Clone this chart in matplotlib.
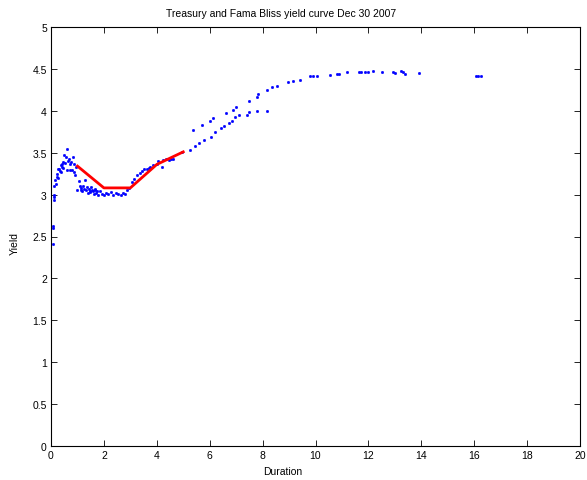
import matplotlib
matplotlib.use("Agg")
import matplotlib.pyplot as plt

plt.rcParams['font.family'] = ['Liberation Sans', 'DejaVu Sans']

# Treasury yields vs duration (blue dots)
dur = [0.06, 0.07, 0.07, 0.10, 0.10, 0.11, 0.13, 0.15, 0.18, 0.21, 0.23,
       0.25, 0.27, 0.30, 0.33, 0.36, 0.38, 0.40, 0.42, 0.44, 0.47, 0.50,
       0.53, 0.56, 0.59, 0.62, 0.66, 0.69, 0.71, 0.73, 0.75, 0.80, 0.84,
       0.87, 0.88, 0.91, 0.95,
       1.00, 1.07, 1.10, 1.12, 1.15, 1.18, 1.22, 1.25, 1.29, 1.33, 1.36,
       1.38, 1.43, 1.46, 1.48, 1.52, 1.55, 1.57, 1.62, 1.65, 1.67, 1.72,
       1.75, 1.79, 1.85, 1.92, 2.00, 2.08, 2.17, 2.27, 2.36, 2.45, 2.55,
       2.63, 2.72, 2.80, 2.86,
       2.95, 3.05, 3.15, 3.26, 3.36, 3.45, 3.50, 3.62, 3.70, 3.75, 3.87,
       4.00, 4.05, 4.18, 4.25, 4.35, 4.45, 4.55, 4.60, 4.94, 5.26, 5.36,
       5.44, 5.60, 5.70, 5.80,
       6.01, 6.05, 6.11, 6.21, 6.43, 6.53, 6.62, 6.73, 6.84, 6.89, 6.97,
       6.99, 7.11, 7.41, 7.50, 7.50, 7.78, 7.80, 7.81, 8.18, 8.18, 8.36,
       8.56, 8.95, 9.14, 9.41, 9.79, 9.92, 10.05, 10.55, 10.80, 10.88,
       11.19, 11.63, 11.71, 11.87, 11.97, 12.16, 12.51, 12.92, 13.00,
       13.23, 13.30, 13.38, 13.90, 16.05, 16.15, 16.25]
yld = [2.41, 2.60, 2.63, 2.94, 3.00, 2.97, 3.10, 3.18, 3.13, 3.21, 3.25,
       3.20, 3.31, 3.30, 3.28, 3.35, 3.27, 3.33, 3.36, 3.39, 3.32, 3.47,
       3.38, 3.45, 3.55, 3.29, 3.40, 3.42, 3.29, 3.36, 3.39, 3.29, 3.45,
       3.37, 3.27, 3.23, 3.33,
       3.05, 3.16, 3.10, 3.08, 3.06, 3.04, 3.10, 3.07, 3.17, 3.06, 3.09,
       3.02, 3.07, 3.04, 3.03, 3.09, 3.05, 3.04, 3.01, 3.07, 3.06, 3.02,
       3.04, 2.99, 3.04, 3.01, 3.00, 3.02, 3.01, 3.03, 3.00, 3.02, 3.01,
       3.00, 3.02, 3.01, 3.05,
       3.08, 3.15, 3.19, 3.23, 3.26, 3.28, 3.30, 3.31, 3.32, 3.33, 3.35,
       3.37, 3.40, 3.33, 3.41, 3.42, 3.41, 3.43, 3.42, 3.51, 3.53, 3.77,
       3.58, 3.61, 3.83, 3.65,
       3.88, 3.69, 3.91, 3.75, 3.79, 3.82, 3.97, 3.85, 3.88, 4.01, 3.93,
       4.05, 3.95, 3.95, 4.12, 3.99, 4.17, 4.00, 4.20, 4.25, 4.00, 4.28,
       4.30, 4.34, 4.36, 4.37, 4.41, 4.41, 4.42, 4.43, 4.44, 4.44,
       4.46, 4.46, 4.46, 4.46, 4.46, 4.47, 4.46, 4.46, 4.45,
       4.47, 4.46, 4.44, 4.45, 4.42, 4.42, 4.42]

# Fama Bliss yields (red line)
fb_dur = [1, 2, 3, 4, 5]
fb_yld = [3.34, 3.08, 3.08, 3.36, 3.51]

xticks = [0, 2, 4, 6, 8, 10, 12, 14, 16, 18, 20]
yticks = [0, 0.5, 1, 1.5, 2, 2.5, 3, 3.5, 4, 4.5, 5]
ytick_labels = ['0', '0.5', '1', '1.5', '2', '2.5', '3', '3.5', '4', '4.5', '5']

fig = plt.figure(figsize=(5.87, 4.81), dpi=100)
ax = fig.add_axes([51 / 587, 34 / 481, 529 / 587, 419 / 481])

ax.plot(dur, yld, linestyle='none', marker='.', color='blue',
        markersize=3.2, markeredgewidth=0.5)
ax.plot(fb_dur, fb_yld, color='red', linewidth=2)

ax.set_xlim(0, 20)
ax.set_ylim(0, 5)
ax.set_xticks(xticks)
ax.set_xticklabels([str(t) for t in xticks])
ax.set_yticks(yticks)
ax.set_yticklabels(ytick_labels)
ax.tick_params(direction='in', top=True, right=True, length=4, width=0.6,
               labelsize=7.5, pad=3)
for s in ax.spines.values():
    s.set_linewidth(0.8)

ax.set_title('Treasury and Fama Bliss yield curve Dec 30 2007', fontsize=7.5,
             x=(281 - 51) / 529, pad=8)
fig.text(283 / 587, 1 - 472 / 481, 'Duration', fontsize=7.5, ha='center', va='center')
fig.text(15 / 587, 1 - 244 / 481, 'Yield', fontsize=7.5, ha='center', va='center',
         rotation=90)

fig.savefig('out.png', dpi=100)
